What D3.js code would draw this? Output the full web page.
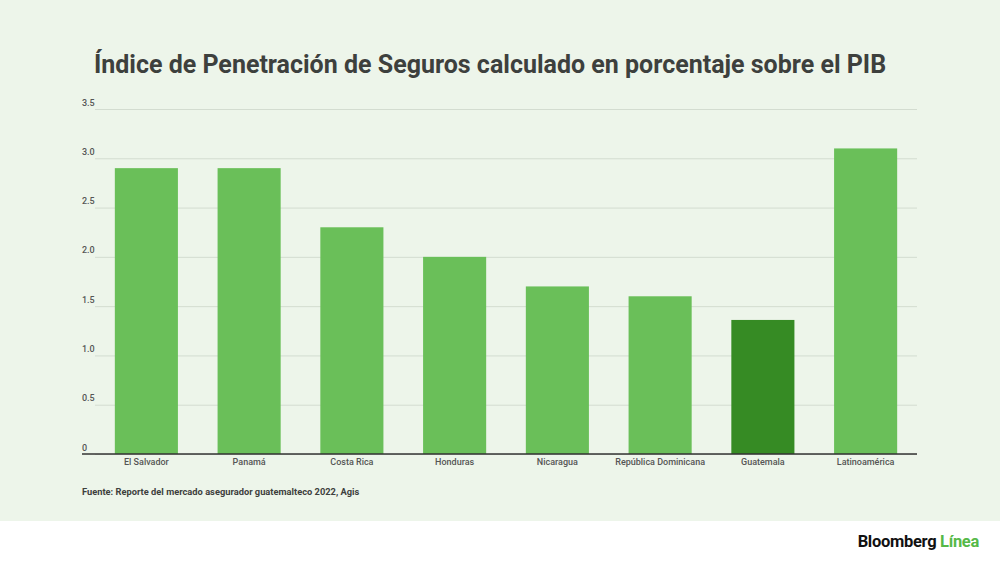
<!DOCTYPE html>
<html>
<head>
<meta charset="utf-8">
<script src="https://cdn.jsdelivr.net/npm/d3@7"></script>
<style>
  body { margin: 0; background: #fff; }
  svg { display: block; font-family: Roboto, sans-serif; }
</style>
</head>
<body>
<div id="chart"></div>
<script>
// データ
const categories = ['El Salvador', 'Panamá', 'Costa Rica', 'Honduras', 'Nicaragua', 'República Dominicana', 'Guatemala', 'Latinoamérica'];
const values = [2.9, 2.9, 2.3, 2.0, 1.7, 1.6, 1.36, 3.1];
const highlight = 'Guatemala';
const yTicks = [0, 0.5, 1.0, 1.5, 2.0, 2.5, 3.0, 3.5];

const width = 1000, height = 562;
const margin = { top: 109, right: 83, bottom: 108, left: 95 };

const svg = d3.select('#chart').append('svg')
    .attr('width', width)
    .attr('height', height);

// 背景
svg.append('rect').attr('width', width).attr('height', 521).attr('fill', '#edf5ea');

// タイトル
svg.append('text')
    .attr('x', 490).attr('y', 73)
    .attr('text-anchor', 'middle')
    .attr('font-size', 25).attr('font-weight', 700)
    .attr('fill', '#3d403d')
    .text('Índice de Penetración de Seguros calculado en porcentaje sobre el PIB');

const x = d3.scaleBand()
    .domain(categories)
    .range([margin.left, width - margin.right])
    .paddingInner(0.386)
    .paddingOuter(0.193);

const y = d3.scaleLinear()
    .domain([0, 3.5])
    .range([height - margin.bottom, margin.top]);

// グリッド線と目盛り
const yAxis = svg.append('g')
    .attr('transform', `translate(${margin.left},0)`)
    .call(d3.axisLeft(y).tickValues(yTicks).tickSize(-(width - margin.right - margin.left))
        .tickFormat(d => d === 0 ? '0' : d3.format('.1f')(d)));
yAxis.select('.domain').remove();
yAxis.selectAll('.tick line').attr('stroke', '#d3dcd0').attr('stroke-width', 1);
yAxis.selectAll('.tick text')
    .attr('x', -13).attr('dy', -4)
    .attr('text-anchor', 'start')
    .attr('font-size', 9).attr('font-weight', 500).attr('fill', '#555').attr('font-family', 'Roboto, sans-serif');

// バー
svg.selectAll('rect.bar')
    .data(categories)
    .enter()
    .append('rect')
    .attr('class', 'bar')
    .attr('x', d => x(d))
    .attr('y', (d, i) => y(values[i]))
    .attr('width', x.bandwidth())
    .attr('height', (d, i) => y(0) - y(values[i]))
    .attr('fill', d => d === highlight ? '#368b24' : '#6abf59');

// X軸
const xAxis = svg.append('g')
    .attr('transform', `translate(0,${y(0)})`)
    .call(d3.axisBottom(x).tickSize(0).tickPadding(5));
xAxis.select('.domain').attr('d', `M${margin.left - 13},0H${width - margin.right}`)
    .attr('stroke', '#333').attr('stroke-width', 1.3);
xAxis.selectAll('.tick text')
    .attr('font-size', 9).attr('font-weight', 500).attr('fill', '#555').attr('font-family', 'Roboto, sans-serif');

// 出典
svg.append('text')
    .attr('x', 82).attr('y', 495)
    .attr('font-size', 9.3).attr('font-weight', 700).attr('fill', '#3d403d')
    .text('Fuente: Reporte del mercado asegurador guatemalteco 2022, Agis');

// ロゴ
const logo = svg.append('text')
    .attr('x', 979).attr('y', 547)
    .attr('text-anchor', 'end')
    .attr('font-size', 16.5).attr('font-weight', 700)
    .attr('letter-spacing', -0.3);
logo.append('tspan').attr('fill', '#111').text('Bloomberg ');
logo.append('tspan').attr('fill', '#55b948').text('Línea');
</script>
</body>
</html>
